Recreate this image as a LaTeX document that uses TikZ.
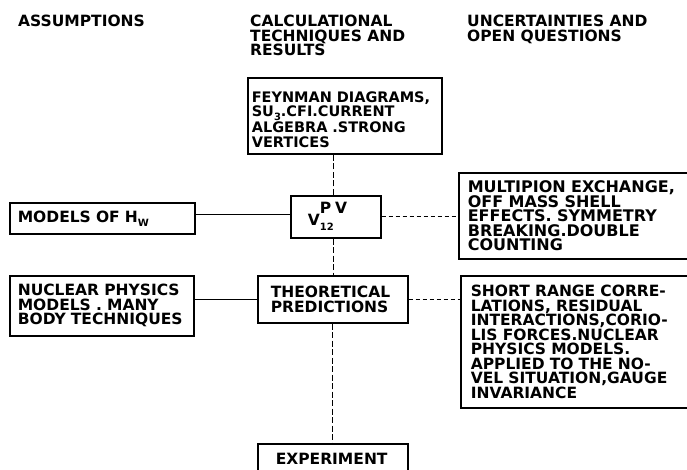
\documentclass[tikz,border=0pt]{standalone}
\usepackage{fontspec}
\setmainfont{DejaVu Sans}
\newcommand\labfont{\fontsize{15.5}{14.5}\selectfont\bfseries}
\newcommand\rightfont{\fontsize{16}{14.5}\selectfont\bfseries}
\newcommand\topfont{\fontsize{14.5}{14.6}\selectfont\bfseries}
\newcommand\smallsub[1]{\raisebox{-4pt}{\fontsize{10}{10}\selectfont #1}}
\begin{document}
\begin{tikzpicture}[x=1pt,y=-1pt,
  box/.style={draw, line width=1.6pt, inner ysep=0pt, align=left, anchor=north west, font=\labfont},
  head/.style={inner sep=0pt, anchor=north west, align=left, font=\labfont},
  vconn/.style={line width=1.1pt, dash pattern=on 6pt off 2.5pt},
  lconn/.style={line width=1pt},
  rconn/.style={line width=1.3pt, dash pattern=on 4pt off 3pt}]
\useasboundingbox (0,0) rectangle (687,470);
% headers
\node[head] (h1) at (18,15) {ASSUMPTIONS};
\node[head] (h2) at (250,15) {CALCULATIONAL\\TECHNIQUES AND\\RESULTS};
\node[head] (h3) at (467,15) {UNCERTAINTIES AND\\OPEN QUESTIONS};
% boxes
\node[box, font=\topfont, inner xsep=4pt, text width=186pt, minimum height=76pt] (top) at (247,77)
  {\rule{0pt}{18pt}FEYNMAN DIAGRAMS,\\SU\smallsub{3}.CFI.CURRENT\\ALGEBRA .STRONG\\VERTICES};
\node[box, inner xsep=17pt, text width=56pt, minimum height=42pt] (vbox) at (290,195)
  {V\rlap{\raisebox{-5pt}{\fontsize{10}{10}\selectfont 12}}\raisebox{12pt}{P\hspace{4pt}V}};
\node[box, inner xsep=8pt, text width=169pt, minimum height=31pt] (models) at (9,202)
  {MODELS OF H\smallsub{W}};
\node[box, font=\rightfont, inner xsep=9pt, text width=227pt, minimum height=86pt] (rbox1) at (458,172)
  {MULTIPION EXCHANGE,\\OFF MASS SHELL\\EFFECTS. SYMMETRY\\BREAKING.DOUBLE\\COUNTING};
\node[box, inner xsep=8pt, text width=168pt, minimum height=60pt] (nuclear) at (9,275)
  {NUCLEAR PHYSICS\\MODELS . MANY\\BODY TECHNIQUES};
\node[box, inner xsep=13pt, text width=124pt, minimum height=47pt] (theo) at (257,275)
  {THEORETICAL\\PREDICTIONS};
\node[box, inner xsep=10pt, text width=225pt, minimum height=132pt] (rbox2) at (460,275)
  {SHORT RANGE CORRE-\\LATIONS, RESIDUAL\\INTERACTIONS,CORIO-\\LIS FORCES.NUCLEAR\\PHYSICS MODELS.\\APPLIED TO THE NO-\\VEL SITUATION,GAUGE\\INVARIANCE};
\node[box, inner xsep=18pt, text width=114pt, minimum height=31pt] (exp) at (257,443)
  {EXPERIMENT};
% connectors
\draw[vconn] ([xshift=-2pt]vbox.north) -- ([xshift=-2pt]vbox.north |- top.south);
\draw[vconn] ([xshift=-2pt]vbox.south) -- ([xshift=-2pt]vbox.south |- theo.north);
\draw[vconn] (exp.north |- theo.south) -- (exp.north);
\draw[lconn] ([yshift=2pt]vbox.west) -- ([yshift=2pt]vbox.west -| models.east);
\draw[rconn] (vbox.east) -- (vbox.east -| rbox1.west);
\draw[lconn] (theo.west) -- (theo.west -| nuclear.east);
\draw[rconn] (theo.east) -- (theo.east -| rbox2.west);
\end{tikzpicture}
\end{document}
